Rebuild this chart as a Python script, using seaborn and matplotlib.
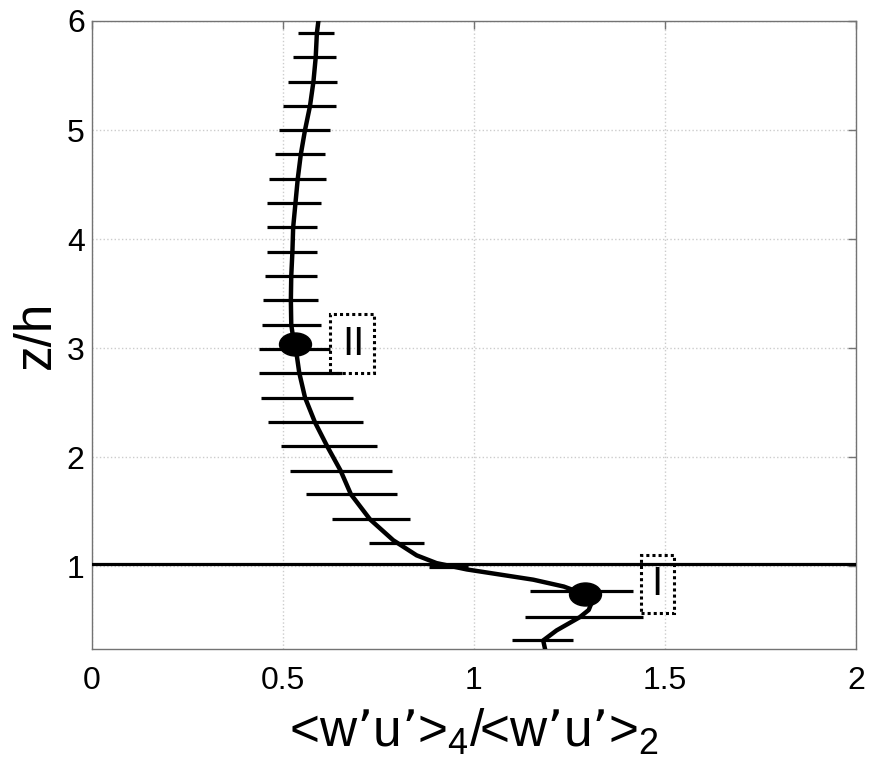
import matplotlib
matplotlib.use("Agg")
import matplotlib.pyplot as plt
from matplotlib.path import Path
from matplotlib.patches import Rectangle
import numpy as np
import pandas as pd
import seaborn as sns

# error bar levels (z/h) and their left/right ends
z_bars = [5.887, 5.667, 5.443, 5.220, 5.000, 4.777, 4.553, 4.330, 4.107, 3.883,
          3.661, 3.440, 3.217, 2.991, 2.774, 2.548, 2.321, 2.101, 1.878, 1.661,
          1.431, 1.211, 0.994, 0.771, 0.535, 0.328]
err_lo = [0.540, 0.527, 0.513, 0.501, 0.491, 0.479, 0.465, 0.459, 0.459, 0.459,
          0.453, 0.447, 0.445, 0.438, 0.438, 0.443, 0.462, 0.494, 0.519, 0.561,
          0.628, 0.726, 0.883, 1.146, 1.133, 1.099]
err_hi = [0.634, 0.639, 0.641, 0.638, 0.623, 0.610, 0.613, 0.600, 0.589, 0.589,
          0.589, 0.593, 0.599, 0.623, 0.654, 0.683, 0.709, 0.745, 0.786, 0.798,
          0.833, 0.869, 0.985, 1.415, 1.443, 1.260]

# profile curve
curve_x = [0.593, 0.589, 0.586, 0.580, 0.571, 0.558, 0.547, 0.539, 0.533, 0.527,
           0.525, 0.522, 0.521, 0.522, 0.526, 0.532, 0.543, 0.558, 0.584, 0.616,
           0.651, 0.678, 0.728, 0.789, 0.850, 0.902, 0.981, 1.068, 1.155, 1.235,
           1.290, 1.308, 1.300, 1.277, 1.216, 1.181, 1.186]
curve_z = [6.000, 5.887, 5.667, 5.443, 5.220, 5.000, 4.777, 4.553, 4.330, 4.107,
           3.883, 3.661, 3.440, 3.217, 3.120, 3.043, 2.774, 2.548, 2.321, 2.101,
           1.878, 1.661, 1.431, 1.239, 1.101, 1.030, 0.972, 0.925, 0.878, 0.815,
           0.743, 0.670, 0.600, 0.535, 0.413, 0.321, 0.240]

# marked points and their labels
mark_x = [1.290, 0.532]
mark_z = [0.743, 3.043]
mark_labels = ["I", "II"]
label_x = [1.478, 0.684]
label_z = [0.841, 3.043]
box_x0 = [1.436, 0.623]
box_x1 = [1.523, 0.738]
box_z0 = [0.572, 2.773]
box_z1 = [1.101, 3.312]

h_line = 1.025

sns.set_style("white")
plt.rcParams['font.family'] = ['Liberation Sans', 'DejaVu Sans']
plt.rcParams['mathtext.default'] = 'regular'
plt.rcParams['text.color'] = 'black'
plt.rcParams['axes.labelcolor'] = 'black'

fig = plt.figure(figsize=(8.69, 7.8), dpi=100)
ax = fig.add_axes([0.1055, 0.1676, 0.8799, 0.8055])

ax.grid(True, ls=':', color='0.8', lw=1.0)
ax.set_axisbelow(True)

ax.hlines(z_bars, err_lo, err_hi, color='black', lw=2.3, zorder=3)

df = pd.DataFrame({'x': curve_x, 'z': curve_z})
sns.lineplot(data=df, x='x', y='z', sort=False, estimator=None,
             color='black', lw=3.2, ax=ax, zorder=4)

ax.axhline(h_line, color='black', lw=2.3, zorder=3)

# elliptical markers
ell = Path.unit_circle().transformed(matplotlib.transforms.Affine2D().scale(1.39, 1.0))
ax.plot(mark_x, mark_z, ls='none', marker=ell, ms=23, color='black', zorder=5)

for lab, tx, tz, x0, x1, z0, z1 in zip(mark_labels, label_x, label_z,
                                       box_x0, box_x1, box_z0, box_z1):
    ax.add_patch(Rectangle((x0, z0), x1 - x0, z1 - z0, fill=False,
                           ec='black', ls=(0, (1, 1)), lw=2.2, zorder=6))
    ax.text(tx, tz, lab, ha='center', va='center', fontsize=29, color='black', zorder=6)

ax.set_xlim(0, 2)
ax.set_ylim(0.24, 6)
ax.set_xticks([0, 0.5, 1, 1.5, 2])
ax.set_xticklabels(['0', '0.5', '1', '1.5', '2'])
ax.set_yticks([1, 2, 3, 4, 5, 6])

ax.tick_params(direction='in', length=6, width=1, color='0.45',
               labelcolor='black', labelsize=23, top=True, right=True)
ax.tick_params(axis='x', pad=12)
ax.tick_params(axis='y', pad=5)
for s in ax.spines.values():
    s.set_color('0.45')
    s.set_linewidth(1.0)

ax.set_xlabel("<w’u’>$_4$/<w’u’>$_2$", fontsize=37, labelpad=8, color='black')
ax.set_ylabel("z/h", fontsize=37, labelpad=4, color='black')

fig.savefig("out.png", dpi=100)
